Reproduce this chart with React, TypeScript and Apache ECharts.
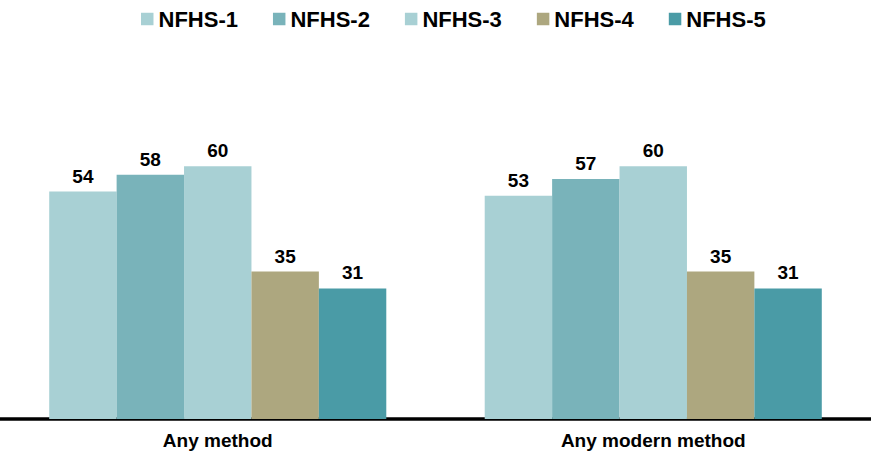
import React, { useEffect, useRef } from "react";
import * as echarts from "echarts";

const categories = ["Any method", "Any modern method"];
const seriesNames = ["NFHS-1", "NFHS-2", "NFHS-3", "NFHS-4", "NFHS-5"];
const nfhs1 = [54, 53];
const nfhs2 = [58, 57];
const nfhs3 = [60, 60];
const nfhs4 = [35, 35];
const nfhs5 = [31, 31];
const colors = ["#A8D0D4", "#79B3BA", "#A8D0D4", "#ADA77F", "#4A9BA6"];

const FONT = "'Liberation Sans', Arial, sans-serif";

export default function App() {
  const ref = useRef<HTMLDivElement>(null);
  useEffect(() => {
    if (!ref.current) return;
    const chart = echarts.init(ref.current, null, { renderer: "svg" });
    const values = [nfhs1, nfhs2, nfhs3, nfhs4, nfhs5];
    chart.setOption({
      animation: false,
      backgroundColor: "#ffffff",
      legend: {
        left: 136,
        top: 3,
        itemWidth: 12.5,
        itemHeight: 12.5,
        itemGap: 35,
        icon: "rect",
        textStyle: { fontFamily: FONT, fontWeight: "bold", fontSize: 22, color: "#000" },
        data: seriesNames,
      },
      grid: { left: 0, right: 0, top: 82, bottom: 34, containLabel: false },
      xAxis: {
        type: "category",
        data: categories,
        axisLine: { show: true, lineStyle: { color: "#000", width: 3.5 } },
        axisTick: { show: false },
        axisLabel: { fontFamily: FONT, fontWeight: "bold", fontSize: 19, color: "#000", margin: 12 },
      },
      yAxis: {
        type: "value",
        min: 0,
        max: 80,
        show: false,
        splitLine: { show: false },
      },
      series: seriesNames.map((name, i) => ({
        name,
        type: "bar",
        data: values[i],
        barGap: "0%",
        barCategoryGap: "22.6%",
        itemStyle: { color: colors[i] },
        label: {
          show: true,
          position: "top",
          distance: 6,
          fontFamily: FONT,
          fontWeight: "bold",
          fontSize: 19,
          color: "#000",
        },
      })),
    });
    return () => chart.dispose();
  }, []);
  return (
    <div
      ref={ref}
      style={{ position: "absolute", left: 0, top: 0, width: 871, height: 453 }}
    />
  );
}
